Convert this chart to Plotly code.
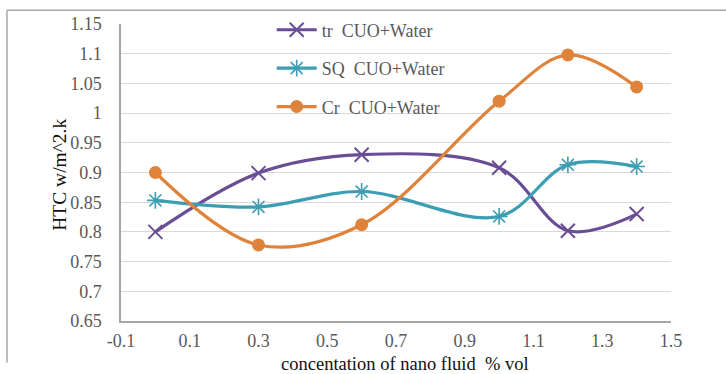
import plotly.graph_objects as go

# concentration (% vol) and heat transfer coefficient per geometry
conc = [0.0, 0.3, 0.6, 1.0, 1.2, 1.4]
htc_tr = [0.800, 0.899, 0.930, 0.908, 0.802, 0.830]
htc_sq = [0.853, 0.842, 0.868, 0.826, 0.913, 0.910]
htc_cr = [0.900, 0.778, 0.812, 1.020, 1.098, 1.044]

names = ["tr  CUO+Water", "SQ  CUO+Water", "Cr  CUO+Water"]
x_ticks = [-0.1, 0.1, 0.3, 0.5, 0.7, 0.9, 1.1, 1.3, 1.5]
y_ticks = [0.65, 0.7, 0.75, 0.8, 0.85, 0.9, 0.95, 1, 1.05, 1.1, 1.15]
x_title = "concentation of nano fluid  % vol"
y_title = "HTC w/m^2.k"

PURPLE = "#6A4E95"
TEAL = "#3C9DB3"
ORANGE = "#E0833A"
FONT = "Liberation Serif"
TICK_FONT = dict(family=FONT, size=18, color="#595959")
TITLE_FONT = dict(family=FONT, size=19.5, color="#111111")

fig = go.Figure()

series = [
    (htc_tr, names[0], PURPLE, dict(symbol="x-thin", size=14, line=dict(width=2, color=PURPLE))),
    (htc_sq, names[1], TEAL, dict(symbol="asterisk", size=14, line=dict(width=1.6, color=TEAL))),
    (htc_cr, names[2], ORANGE, dict(symbol="circle", size=13, color=ORANGE, line=dict(width=0))),
]
for vals, name, col, mk in series:
    fig.add_trace(go.Scatter(
        x=conc, y=vals, name=name, mode="lines+markers",
        line=dict(color=col, width=3.2, shape="spline", smoothing=1.0),
        marker=mk, legendgroup=name,
    ))

# outer frame (top and left edges)
fig.add_shape(type="line", xref="paper", yref="paper",
              x0=-0.2073, x1=1.2, y0=1.0465, y1=1.0465,
              line=dict(color="#A6A6A6", width=1.5))
fig.add_shape(type="line", xref="paper", yref="paper",
              x0=-0.2073, x1=-0.2073, y0=1.0465, y1=-0.14,
              line=dict(color="#A6A6A6", width=1.5))

# axis titles
fig.add_annotation(text=x_title, xref="paper", yref="paper",
                   x=0.516, y=-0.146, xanchor="center", yanchor="middle",
                   showarrow=False,
                   font=dict(family=FONT, size=18.5, color="#111111"))
fig.add_annotation(text=y_title, xref="paper", yref="paper",
                   x=-0.111, y=0.492, xanchor="center", yanchor="middle",
                   textangle=-90, showarrow=False, font=TITLE_FONT)

fig.update_layout(
    width=726, height=374,
    margin=dict(l=121, r=55, t=20, b=53),
    paper_bgcolor="white", plot_bgcolor="white",
    font=dict(family=FONT, size=18, color="#595959"),
    showlegend=True,
    legend=dict(x=0.274, y=1.042, xanchor="left", yanchor="top",
                bgcolor="rgba(0,0,0,0)", tracegroupgap=12,
                font=dict(family=FONT, size=18, color="#595959"),
                itemwidth=40),
    xaxis=dict(range=[-0.1, 1.5], tickvals=x_ticks,
               ticktext=[str(t) for t in x_ticks],
               showgrid=False, zeroline=False, showline=True,
               linecolor="#A6A6A6", linewidth=1.5, ticks="",
               ticklabelstandoff=3, tickfont=TICK_FONT),
    yaxis=dict(range=[0.65, 1.15], tickvals=y_ticks,
               ticktext=[f"{t:g}" for t in y_ticks],
               showgrid=True, gridcolor="#D9D9D9", gridwidth=1.2,
               zeroline=False, showline=True,
               linecolor="#A6A6A6", linewidth=1.5, ticks="",
               ticklabelstandoff=14, tickfont=TICK_FONT),
)

fig.write_html("out.html")
